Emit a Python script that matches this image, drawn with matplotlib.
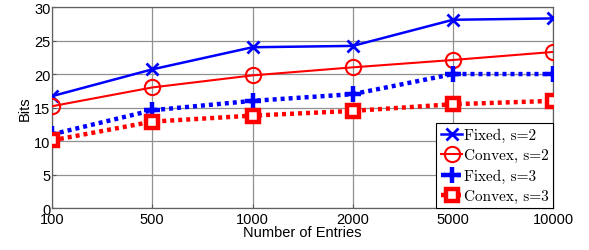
import numpy as np
import matplotlib.pyplot as plt

# data
entries = ['100', '500', '1000', '2000', '5000', '10000']
fixed_s2 = [16.7, 20.7, 24.0, 24.2, 28.1, 28.3]
convex_s2 = [15.2, 18.0, 19.8, 21.0, 22.1, 23.3]
fixed_s3 = [11.0, 14.6, 16.0, 17.0, 20.0, 20.0]
convex_s3 = [10.1, 12.9, 13.8, 14.5, 15.5, 16.0]

x = np.arange(len(entries))

fig = plt.figure(figsize=(5.89, 2.51), dpi=100)
ax = fig.add_axes([0.0883, 0.167, 0.851, 0.801])

dot = (0, (0.9, 0.9))
ax.plot(x, fixed_s2, color='#0000ff', lw=1.8, marker='x', ms=8, mew=2,
        label='Fixed, s=2', zorder=3)
ax.plot(x, convex_s2, color='#ff0000', lw=1.5, marker='o', ms=11, mew=1.5,
        mfc='none', label='Convex, s=2', zorder=3)
ax.plot(x, fixed_s3, color='#0000ff', lw=3.2, ls=dot, marker='+', ms=11,
        mew=3.2, label='Fixed, s=3', zorder=3)
ax.plot(x, convex_s3, color='#ff0000', lw=3.2, ls=dot, marker='s', ms=9,
        mew=3.2, mfc='white', label='Convex, s=3', zorder=3)

ax.set_xlim(0, len(entries) - 1)
ax.set_ylim(0, 30)
ax.set_xticks(x)
ax.set_xticklabels(entries)
ax.set_yticks(np.arange(0, 31, 5))
ax.tick_params(direction='in', length=3, labelsize=10.5, color='#555555')
for lab in ax.get_xticklabels() + ax.get_yticklabels():
    lab.set_family('Liberation Sans')
ax.tick_params(axis='x', pad=3)
ax.tick_params(axis='y', pad=1)

ax.grid(True, color='#909090', lw=0.9, ls='-')
ax.set_axisbelow(True)
for s in ax.spines.values():
    s.set_color('#606060')
    s.set_linewidth(0.9)

ax.set_xlabel('Number of Entries', family='Liberation Sans', fontsize=10.5,
              labelpad=-1)
ax.set_ylabel('Bits', family='Liberation Sans', fontsize=10.5, labelpad=2)

leg = ax.legend(loc='lower right', prop={'family': 'cmr10', 'size': 11},
                handlelength=1.4, handletextpad=0.1, borderpad=0.3,
                labelspacing=0.42, borderaxespad=0, fancybox=False,
                framealpha=1, edgecolor='black')
leg.get_frame().set_linewidth(0.8)

fig.savefig('out.png', dpi=100)
